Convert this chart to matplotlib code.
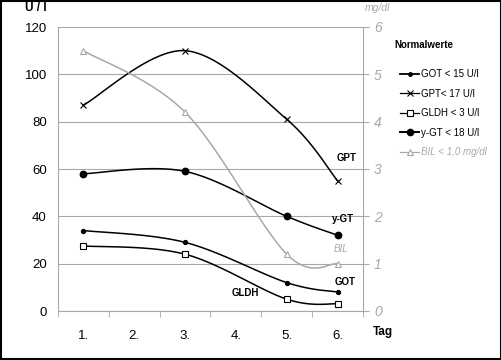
import matplotlib
matplotlib.use("Agg")
import matplotlib.pyplot as plt
import numpy as np
from matplotlib.lines import Line2D
from matplotlib.patches import Rectangle

plt.rcParams['font.family'] = ['Liberation Sans', 'DejaVu Sans']

days = [1, 3, 5, 6]
day_labels = ["1.", "2.", "3.", "4.", "5.", "6."]
got = [34, 29, 12, 8]
gpt = [87, 110, 81, 55]
gldh = [27.5, 24, 5, 3]
ggt = [58, 59, 40, 32]
bil = [5.5, 4.2, 1.2, 1.0]

GRAY = "#a8a8a8"


def smooth(xs, ys, n=40):
    P = np.column_stack([xs, ys]).astype(float)
    m = len(P)
    out = []
    for i in range(m - 1):
        p0 = P[i - 1] if i > 0 else P[i]
        p1 = P[i]
        p2 = P[i + 1]
        p3 = P[i + 2] if i + 2 < m else P[i + 1]
        c1 = p1 + (p2 - p0) / 6.0
        c2 = p2 - (p3 - p1) / 6.0
        t = np.linspace(0, 1, n)[:, None]
        seg = ((1 - t) ** 3) * p1 + 3 * ((1 - t) ** 2) * t * c1 + 3 * (1 - t) * t ** 2 * c2 + t ** 3 * p2
        out.append(seg if i == 0 else seg[1:])
    s = np.vstack(out)
    return s[:, 0], s[:, 1]


fig = plt.figure(figsize=(5.02, 3.6), dpi=100)
ax = fig.add_axes([58 / 502, 1 - 311 / 360, 305 / 502, 284 / 360])
ax2 = ax.twinx()

ax.set_xlim(0.5, 6.5)
ax.set_ylim(0, 120)
ax2.set_ylim(0, 6)

ax.set_yticks(range(0, 121, 20))
ax.yaxis.grid(True, color=GRAY, linewidth=0.8)
ax.set_axisbelow(True)
ax.set_xticks(range(1, 7))
ax.set_xticklabels(day_labels)
ax.set_xticks(np.arange(0.5, 6.6, 1), minor=True)
ax.tick_params(axis='x', which='major', length=0, pad=14, labelsize=9.5)
ax.tick_params(axis='x', which='minor', length=4, color=GRAY, direction='out')
ax.tick_params(axis='y', length=0, pad=8, labelsize=9.5)
for s in ['top', 'right']:
    ax.spines[s].set_visible(False)
for s in ['left', 'bottom']:
    ax.spines[s].set_color(GRAY)
ax2.spines['top'].set_visible(False)
ax2.spines['left'].set_visible(False)
ax2.spines['bottom'].set_visible(False)
ax2.spines['right'].set_color(GRAY)
ax2.set_yticks(range(0, 7))
ax2.tick_params(axis='y', length=4, color=GRAY, labelcolor=GRAY, labelsize=10, pad=4)
for t in ax2.get_yticklabels():
    t.set_fontstyle('italic')

lw = 1.1
# BIL (right axis)
x, y = smooth(days, bil)
ax2.plot(x, y, color=GRAY, lw=lw)
ax2.plot(days, bil, ls='none', marker='^', ms=5, mfc='white', mec=GRAY, mew=0.8)

series = [
    (gpt, 'x', 5, 'black', 0.8),
    (ggt, 'o', 4.6, 'black', 1.0),
    (got, 'o', 2.8, 'black', 1.0),
    (gldh, 's', 5, 'white', 0.8),
]
for vals, mk, ms, mfc, mew in series:
    x, y = smooth(days, vals)
    ax.plot(x, y, color='black', lw=lw, zorder=3)
    ax.plot(days, vals, ls='none', marker=mk, ms=ms, mfc=mfc, mec='black', mew=mew, zorder=4)

# axis titles
fig.text(36 / 502, 1 - 8 / 360, "U / l", fontsize=8.5, fontweight='bold', ha='center', va='center')
fig.text(377 / 502, 1 - 8 / 360, "mg/dl", fontsize=7.5, fontstyle='italic', color=GRAY, ha='center', va='center')
fig.text(383 / 502, 1 - 332 / 360, "Tag", fontsize=8.5, fontweight='bold', ha='center', va='center')

# curve labels
lab = dict(fontsize=7, fontweight='bold', ha='center', va='center')
fig.text(347 / 502, 1 - 158 / 360, "GPT", **lab)
fig.text(343 / 502, 1 - 219 / 360, "y-GT", **lab)
fig.text(341 / 502, 1 - 249 / 360, "BIL", fontsize=7, fontstyle='italic', color=GRAY, ha='center', va='center')
fig.text(345 / 502, 1 - 282 / 360, "GOT", **lab)
fig.text(245 / 502, 1 - 293 / 360, "GLDH", **lab)

# legend
fig.text(394 / 502, 1 - 45 / 360, "Normalwerte", fontsize=7, fontweight='bold', ha='left', va='center')
handles = [
    Line2D([], [], color='black', lw=1.3, marker='o', ms=2.5),
    Line2D([], [], color='black', lw=0.9, marker='x', ms=4, mew=0.8),
    Line2D([], [], color='black', lw=0.9, marker='s', ms=4.5, mfc='white', mew=0.8),
    Line2D([], [], color='black', lw=1.4, marker='o', ms=4.5),
    Line2D([], [], color=GRAY, lw=0.9, marker='^', ms=4.5, mfc='white', mec=GRAY, mew=0.8),
]
labels = ["GOT < 15 U/l", "GPT< 17 U/l", "GLDH < 3 U/l", "y-GT < 18 U/l", "BIL < 1,0 mg/dl"]
leg = fig.legend(handles, labels, loc='upper left', bbox_to_anchor=(400 / 502, 1 - 69 / 360),
                 frameon=False, fontsize=7, handlelength=2.0, handletextpad=0.2,
                 labelspacing=0.98, borderaxespad=0, borderpad=0)
leg.get_texts()[-1].set_color(GRAY)
leg.get_texts()[-1].set_fontstyle('italic')

fig.add_artist(Rectangle((0.002, 0.003), 0.996, 0.994, transform=fig.transFigure,
                         fill=False, edgecolor='black', lw=1.5))

fig.savefig("out.png", dpi=100)
